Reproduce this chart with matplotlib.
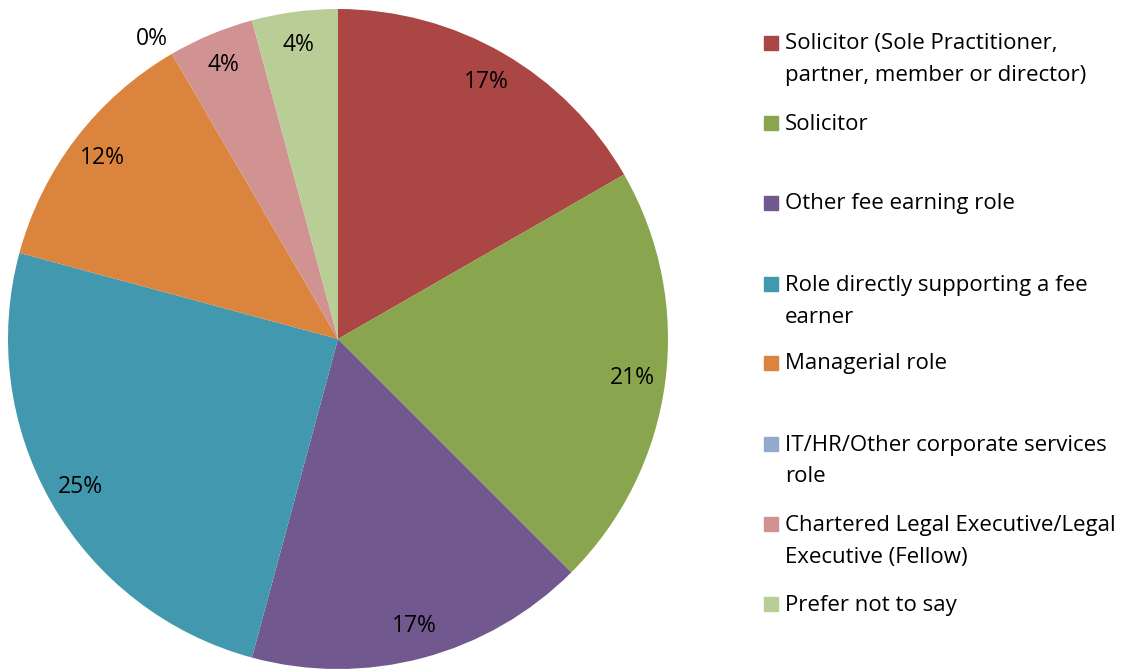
import numpy as np
import matplotlib.pyplot as plt
from matplotlib.patches import Rectangle

# Roles and their share of respondents (percent), clockwise from 12 o'clock
roles = [
    'Solicitor (Sole Practitioner,\npartner, member or director)',
    'Solicitor',
    'Other fee earning role',
    'Role directly supporting a fee\nearner',
    'Managerial role',
    'IT/HR/Other corporate services\nrole',
    'Chartered Legal Executive/Legal\nExecutive (Fellow)',
    'Prefer not to say',
]
shares = [16.7, 20.8, 16.7, 25.0, 12.4, 0.0, 4.2, 4.2]
colors = ['#AA4643', '#89A54E', '#71588F', '#4198AF',
          '#DB843D', '#93A9CF', '#D19392', '#B9CD96']

plt.rcParams['font.family'] = ['Open Sans', 'DejaVu Sans']

W, H = 1141, 670
fig = plt.figure(figsize=(W / 100, H / 100), dpi=100)

# pie area in pixels: center (338, 339), radius 330
cx, cy, r = 338, 339, 330
ax = fig.add_axes([(cx - r) / W, (H - cy - r) / H, 2 * r / W, 2 * r / H])
wedges, texts, autotexts = ax.pie(
    shares, colors=colors, startangle=90, counterclock=False,
    autopct='%.0f%%', pctdistance=0.9, radius=1,
    wedgeprops=dict(linewidth=0), textprops=dict(fontsize=16.5))
ax.set_xlim(-1, 1)
ax.set_ylim(-1, 1)
ax.set_aspect('equal')
ax.axis('off')

# zero slice label sits just outside the pie
for w, t, v in zip(wedges, autotexts, shares):
    if v == 0:
        ang = np.deg2rad(w.theta1 + 1.5)
        t.set_position((1.07 * np.cos(ang), 1.07 * np.sin(ang)))

# legend drawn by hand to match the spacing
tops = [44, 124, 204, 285, 364, 445, 525, 605]
for role, col, y in zip(roles, colors, tops):
    fig.patches.append(Rectangle((764 / W, 1 - (y + 6) / H), 14 / W, 14 / H,
                                 transform=fig.transFigure, color=col))
    for i, line in enumerate(role.split('\n')):
        fig.text(785 / W, 1 - (y + 32 * i) / H, line, fontsize=16,
                 va='center', ha='left')

fig.savefig('out.png', dpi=100)
